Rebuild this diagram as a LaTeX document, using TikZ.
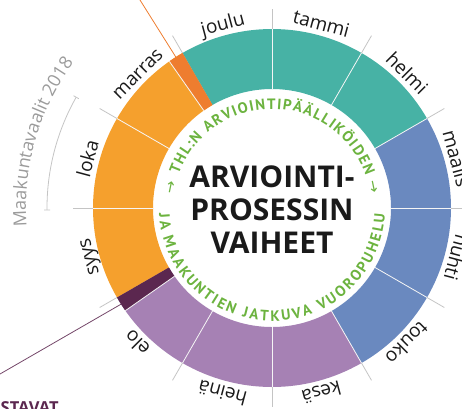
\documentclass[tikz,border=0pt]{standalone}
\usepackage{fontspec}
\setmainfont{Open Sans}
\newfontfamily\arrowfont{DejaVu Sans}
\newfontfamily\greenfont{PT Sans}
\usetikzlibrary{decorations.text}

\definecolor{tealseg}{HTML}{47B2A5}
\definecolor{blueseg}{HTML}{6A89BF}
\definecolor{purpleseg}{HTML}{A681B4}
\definecolor{orangeseg}{HTML}{F5A02D}
\definecolor{darkorange}{HTML}{EE7D2F}
\definecolor{darkpurple}{HTML}{5B274F}
\definecolor{thlgreen}{HTML}{6CB33F}
\definecolor{tickgray}{HTML}{C4C4C4}
\definecolor{textgray}{HTML}{9B9B9B}
\definecolor{titleblack}{HTML}{1A1A1A}

\tikzset{
  month/.style={font=\fontsize{19}{22}\selectfont, text=titleblack, anchor=base, inner sep=0pt},
  ringsep/.style={white!92!gray, line width=0.8pt},
  monthtick/.style={tickgray, line width=0.8pt},
}

\def\rin{119pt}
\def\rout{179pt}

\begin{document}
\begin{tikzpicture}
\useasboundingbox (-272pt,-200pt) rectangle (190pt,208pt);
\clip (-272pt,-200pt) rectangle (190pt,208pt);

% ring of months, clockwise from the top
\foreach \name/\col [count=\i] in {tammi/tealseg,helmi/tealseg,maalis/blueseg,huhti/blueseg,touko/blueseg,kesä/purpleseg,heinä/purpleseg,elo/purpleseg,syys/orangeseg,loka/orangeseg,marras/orangeseg,joulu/tealseg}
{
  \pgfmathsetmacro\angB{90-30*(\i-1)}
  \pgfmathsetmacro\angA{\angB-30}
  \pgfmathsetmacro\angM{\angB-15}
  \fill[\col] (\angA:\rin) arc[start angle=\angA,end angle=\angB,radius=\rin]
    -- (\angB:\rout) arc[start angle=\angB,end angle=\angA,radius=\rout] -- cycle;
  \node[month, rotate=\angM-90] (m\i) at (\angM:184pt) {\name};
}
\fill[darkorange] (120:\rin) arc[start angle=120,end angle=125,radius=\rin]
  -- (125:\rout) arc[start angle=125,end angle=120,radius=\rout] -- cycle;
\fill[darkpurple] (-150:\rin) arc[start angle=-150,end angle=-145,radius=\rin]
  -- (-145:\rout) arc[start angle=-145,end angle=-150,radius=\rout] -- cycle;

\foreach \a in {0,30,60,90,125,150,180,240,270,300,330,-145}
  \draw[ringsep] (\a:\rin) -- (\a:\rout);
\foreach \a in {0,30,...,330}
  \draw[monthtick] (\a:\rout) -- (\a:199pt);

% centre
\node[font=\fontsize{30}{33}\selectfont\bfseries, text=titleblack, align=center, inner sep=0pt]
  (title) at (0pt,-1.5pt) {ARVIOINTI-\\PROSESSIN\\VAIHEET};

\path[decorate, decoration={text along path, text align={fit to path},
  text={|\arrowfont\fontsize{15}{15}\selectfont\color{thlgreen}|→ |\greenfont\fontsize{15}{15}\selectfont\bfseries\color{thlgreen}|THL:N ARVIOINTIPÄÄLLIKÖIDEN |\arrowfont\fontsize{15}{15}\selectfont\color{thlgreen}|→}}]
  (172:99pt) arc[start angle=172,end angle=8,radius=99pt];
\path[decorate, decoration={text along path, text align={fit to path},
  text={|\greenfont\fontsize{15}{15}\selectfont\bfseries\color{thlgreen}|JA MAAKUNTIEN JATKUVA VUOROPUHELU}}]
  (183:113pt) arc[start angle=183,end angle=357,radius=113pt];

% vaalit
\draw[monthtick] (150.5:225pt) arc[start angle=150.5,end angle=180.5,radius=225pt];
\draw[monthtick] (150.5:222pt) -- (150.5:228pt);
\draw[monthtick] (180.5:222pt) -- (180.5:228pt);
\path[decorate, decoration={text along path, text align=center,
  text={|\fontsize{18}{18}\selectfont\color{textgray}|Maakuntavaalit 2018}}]
  (196:246pt) arc[start angle=196,end angle=132,radius=246pt];

% pointers
\coordinate (orangewedge) at (122.5:179pt);
\coordinate (orangetop) at (-132pt,208pt);
\draw[darkorange, line width=0.8pt] (orangewedge) -- (orangetop);
\coordinate (purplewedge) at (-147.5:179pt);
\coordinate (purpleend) at (-272pt,-166pt);
\draw[darkpurple!85, line width=0.8pt] (purplewedge) -- (purpleend);
\node[font=\fontsize{16.5}{18}\selectfont\bfseries, text=darkpurple, anchor=base west, inner sep=0pt]
  (stavat) at (-271.5pt,-205pt) {STAVAT};
\end{tikzpicture}
\end{document}
